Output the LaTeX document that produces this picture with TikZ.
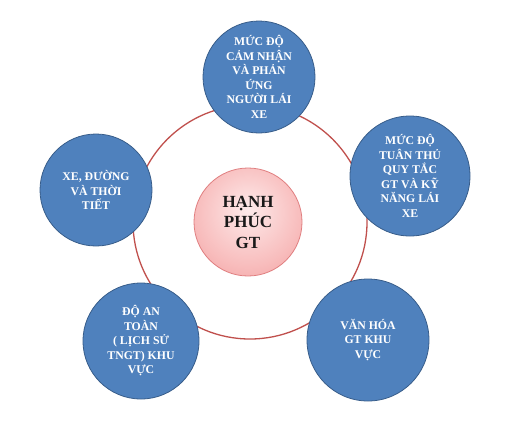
\documentclass[tikz,border=0pt]{standalone}
\usepackage{fontspec}
\setmainfont{Liberation Serif}
\definecolor{bluefill}{HTML}{4F81BD}
\definecolor{blueedge}{HTML}{385D8A}
\definecolor{ringred}{HTML}{C0504D}
\definecolor{pinkin}{HTML}{FDEAEA}
\definecolor{pinkmid}{HTML}{F8BDBD}
\definecolor{pinkout}{HTML}{EE8A8C}
\definecolor{pinkedge}{HTML}{E07F80}
\pgfdeclareradialshading{hubshade}{\pgfpoint{0bp}{6bp}}{color(0bp)=(pinkin); color(24bp)=(pinkmid); color(48bp)=(pinkout); color(70bp)=(pinkout)}
\begin{document}
\begin{tikzpicture}[x=1pt,y=-1pt,
  bubble/.style={circle, draw=blueedge, line width=0.8pt, fill=bluefill,
    minimum size=#1, inner sep=0pt, text=white, align=center,
    font=\fontsize{11.8}{14.5}\selectfont\bfseries},
  hub/.style={circle, draw=pinkedge, line width=0.8pt, shading=hubshade,
    minimum size=108pt, inner sep=0pt,
    align=center, text=black!90, font=\fontsize{17}{20.5}\selectfont\bfseries},
  ring/.style={draw=ringred, line width=1.3pt}]
\useasboundingbox (0,0) rectangle (527,424);
\coordinate (c) at (250,222);
\draw[ring] (c) circle[radius=117];
\node[hub] (hub) at (248,222) {HẠNH\\PHÚC\\GT};
\node[bubble=112pt] (top) at (259,77) {MỨC ĐỘ\\CẢM NHẬN\\VÀ PHẢN\\ỨNG\\NGƯỜI LÁI\\XE};
\node[bubble=120pt] (right) at (410,176) {MỨC ĐỘ\\TUÂN THỦ\\QUY TẮC\\GT VÀ KỸ\\NĂNG LÁI\\XE};
\node[bubble=112pt] (left) at (96,190) {XE, ĐƯỜNG\\VÀ THỜI\\TIẾT};
\node[bubble=116pt] (bl) at (141,341) {ĐỘ AN\\TOÀN\\( LỊCH SỬ\\TNGT) KHU\\VỰC};
\node[bubble=122pt] (br) at (368,340) {VĂN HÓA\\GT KHU\\VỰC};
\end{tikzpicture}
\end{document}
